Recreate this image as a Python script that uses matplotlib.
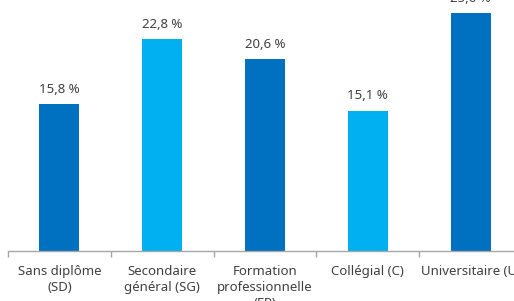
import matplotlib
matplotlib.use("Agg")
import matplotlib.pyplot as plt

categories = ["Sans diplôme\n(SD)", "Secondaire\ngénéral (SG)", "Formation\nprofessionnelle\n(FP)",
              "Collégial (C)", "Universitaire (U)"]
values = [15.8, 22.8, 20.6, 15.1, 25.6]
value_labels = ["15,8 %", "22,8 %", "20,6 %", "15,1 %", "25,6 %"]
colors = ["#0070C0", "#00B0F0", "#0070C0", "#00B0F0", "#0070C0"]

W, H = 514, 301
fig = plt.figure(figsize=(W / 100, H / 100), dpi=100)
ax = fig.add_axes([8 / W, 50 / H, 514 / W, 251 / H])
ax.set_xlim(-0.5, 4.5)
ax.set_ylim(0, 251 / 9.3)
x = range(len(values))
bars = ax.bar(x, values, width=0.39, color=colors)
for xi, v, lab in zip(x, values, value_labels):
    ax.annotate(lab, (xi, v), xytext=(0, 6), textcoords="offset points",
                ha="center", va="bottom", fontsize=9.5, color="#404040", family="Noto Sans")

for s in ["top", "right", "left"]:
    ax.spines[s].set_visible(False)
ax.spines["bottom"].set_color("#A6A6A6")
ax.spines["bottom"].set_linewidth(1)
ax.set_yticks([])
ax.set_xticks(list(x))
ax.set_xticklabels(categories, fontsize=9.5, color="#404040", family="Noto Sans", linespacing=1.3)
ax.tick_params(axis="x", which="major", length=0, pad=10)
ax.set_xticks([i - 0.5 for i in range(6)], minor=True)
ax.tick_params(axis="x", which="minor", length=4, color="#A6A6A6", width=1)

fig.savefig("out.png", dpi=100)
